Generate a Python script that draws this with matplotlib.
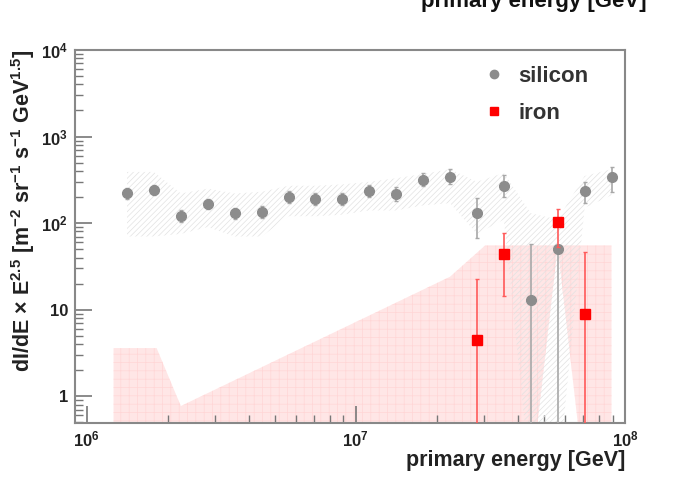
import numpy as np
import matplotlib
matplotlib.use('Agg')
import matplotlib.pyplot as plt
from matplotlib.lines import Line2D
from matplotlib.ticker import LogLocator, FuncFormatter, NullFormatter

plt.rcParams['font.family'] = ['Liberation Sans', 'DejaVu Sans']
plt.rcParams['font.weight'] = 'bold'
plt.rcParams['mathtext.fontset'] = 'custom'
plt.rcParams['mathtext.rm'] = 'Liberation Sans:bold'
plt.rcParams['mathtext.bf'] = 'Liberation Sans:bold'
plt.rcParams['mathtext.it'] = 'Liberation Sans:bold'
plt.rcParams['hatch.linewidth'] = 0.5

# log10(E/GeV) bin centres
log_e = [6.15, 6.25, 6.35, 6.45, 6.55, 6.65, 6.75, 6.85, 6.95, 7.05,
         7.15, 7.25, 7.35, 7.45, 7.55, 7.65, 7.75, 7.85, 7.95]

# silicon flux and errors
si_val = [222, 240, 120, 166, 130, 134, 200, 190, 190, 234,
          217, 315, 340, 130, 268, 13, 50, 234, 340]
si_err_lo = [30, 30, 18, 22, 18, 20, 28, 30, 30, 35,
             35, 50, 60, 62, 67, 12.9, 49.9, 64, 110]
si_err_hi = [35, 35, 20, 25, 20, 22, 32, 35, 35, 40,
             45, 65, 80, 66, 91, 44, 6, 66, 107]
si_sys_lo = [70, 70, 75, 90, 70, 70, 120, 120, 125, 140,
             140, 160, 170, 75, 110, 0.1, 0.1, 150, 210]
si_sys_hi = [390, 390, 220, 250, 220, 230, 270, 270, 280, 300,
             330, 370, 420, 300, 380, 130, 110, 350, 420]

# iron points
fe_log_e = [7.45, 7.55, 7.75, 7.85]
fe_val = [4.5, 43.5, 102, 9.0]
fe_err_lo = [4.49, 29.1, 49, 8.99]
fe_err_hi = [18, 32.5, 42, 37]

# iron systematic band outline
fe_band_log_e = [6.10, 6.26, 6.35, 7.35, 7.48, 7.65, 7.75, 7.85, 7.95]
fe_band_lo = [0.1, 0.1, 0.1, 0.1, 0.1, 0.1, 53, 0.1, 0.1]
fe_band_hi = [3.6, 3.6, 0.77, 24, 55, 55, 55, 55, 55]

e = 10 ** np.array(log_e)
fe_e = 10 ** np.array(fe_log_e)
band_e = 10 ** np.array(fe_band_log_e)

fig = plt.figure(figsize=(6.84, 4.83), dpi=100)
ax = fig.add_axes([0.1096, 0.1242, 0.8041, 0.7723])

ax.fill_between(band_e, fe_band_lo, fe_band_hi, facecolor='#ffe6e6',
                edgecolor='#ffd6d6', hatch='++', linewidth=0, zorder=1)
ax.fill_between(e, si_sys_lo, si_sys_hi, facecolor='none',
                edgecolor='#e2e2e2', hatch='//////', linewidth=0, zorder=2)

ax.errorbar(e, si_val, yerr=[si_err_lo, si_err_hi], fmt='o', color='#8c8c8c',
            ecolor='#a8a8a8', elinewidth=1.2, capsize=1.5, markersize=7,
            zorder=3)
ax.errorbar(fe_e, fe_val, yerr=[fe_err_lo, fe_err_hi], fmt='s', color='#ff0000',
            ecolor='#ff5a5a', elinewidth=1.2, capsize=1.5, markersize=7,
            zorder=4)

ax.set_xscale('log')
ax.set_yscale('log')
ax.set_xlim(9.05e5, 1e8)
ax.set_ylim(0.49, 1e4)


def fmt(v, pos):
    if v == 1:
        return '1'
    if v == 10:
        return '10'
    return r'$10^{%d}$' % round(np.log10(v))


ax.xaxis.set_major_locator(LogLocator(base=10, numticks=10))
ax.yaxis.set_major_locator(LogLocator(base=10, numticks=10))
ax.xaxis.set_minor_locator(LogLocator(base=10, subs=np.arange(2, 10), numticks=20))
ax.yaxis.set_minor_locator(LogLocator(base=10, subs=np.arange(2, 10), numticks=20))
ax.xaxis.set_major_formatter(FuncFormatter(lambda v, p: r'$10^{%d}$' % round(np.log10(v))))
ax.yaxis.set_major_formatter(FuncFormatter(fmt))
ax.xaxis.set_minor_formatter(NullFormatter())
ax.yaxis.set_minor_formatter(NullFormatter())

ax.tick_params(which='both', direction='in', top=False, right=False,
               colors='#777777', labelcolor='#222222', labelsize=12)
ax.tick_params(which='major', length=12, width=1.2)
ax.tick_params(which='minor', length=6, width=1.0)
ax.tick_params(axis='x', pad=5)
ax.tick_params(axis='y', pad=5)
for s in ax.spines.values():
    s.set_color('#888888')
    s.set_linewidth(1.5)

ax.set_xlabel('primary energy [GeV]', loc='right', fontsize=15.5,
              fontweight='bold', color='#222222', labelpad=0)
ax.set_ylabel(r'dI/dE $\times$ E$^{2.5}$ [m$^{-2}$ sr$^{-1}$ s$^{-1}$ GeV$^{1.5}$]',
              loc='top', fontsize=15.5, fontweight='bold', color='#222222',
              labelpad=3)

handles = [Line2D([], [], marker='o', linestyle='none', color='#8c8c8c', markersize=6),
           Line2D([], [], marker='s', linestyle='none', color='#ff0000', markersize=6)]
leg = ax.legend(handles, ['silicon', 'iron'], loc='upper right',
                bbox_to_anchor=(0.97, 1.01), frameon=False,
                fontsize=16, handletextpad=0.6, labelspacing=0.7,
                handlelength=1.0)
for t in leg.get_texts():
    t.set_color('#333333')

fig.text(0.78, 0.985, 'primary energy [GeV]', ha='center', va='baseline',
         fontsize=16, fontweight='bold', color='#111111')

fig.savefig('out.png', dpi=100)
